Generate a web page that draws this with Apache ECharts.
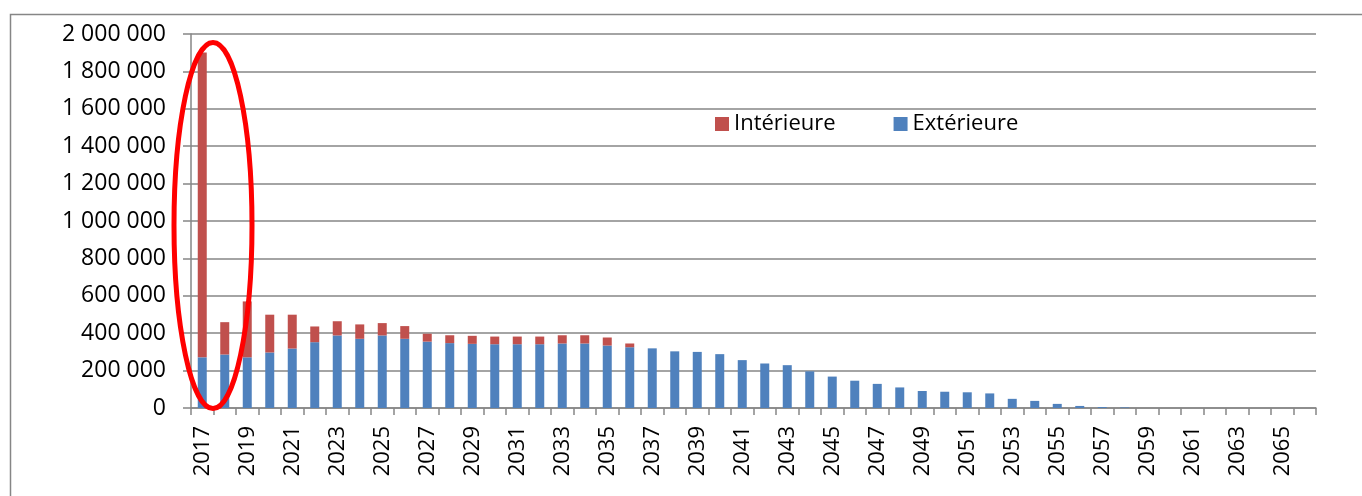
<!DOCTYPE html>
<html>
<head>
<meta charset="utf-8">
<script src="https://cdn.jsdelivr.net/npm/echarts@6/dist/echarts.min.js"></script>
<style>html,body{margin:0;padding:0;background:#fff}#c{width:1362px;height:496px}</style>
</head>
<body>
<div id="c"></div>
<script>
var years = [];
for (var y = 2017; y <= 2066; y++) years.push(String(y));

var exterieure = [271000, 286000, 271000, 297000, 318000, 352000, 388000, 370000, 388000, 370000,
  355000, 347000, 343000, 341000, 341000, 341000, 345000, 345000, 334000, 325000,
  319000, 303000, 300000, 288000, 256000, 238000, 229000, 196000, 168000, 146000,
  129000, 110000, 91000, 87000, 84000, 78000, 49000, 38000, 22000, 11000,
  5000, 3000, 0, 0, 0, 0, 0, 0, 0, 0];

var interieure = [1630000, 173000, 299000, 202000, 181000, 84000, 76000, 77000, 66000, 68000,
  42000, 42000, 43000, 41000, 41000, 41000, 44000, 44000, 43000, 20000,
  0, 0, 0, 0, 0, 0, 0, 0, 0, 0,
  0, 0, 0, 0, 0, 0, 0, 0, 0, 0,
  0, 0, 0, 0, 0, 0, 0, 0, 0, 0];

var yTicks = [0, 200000, 400000, 600000, 800000, 1000000, 1200000, 1400000, 1600000, 1800000, 2000000];

var FONT = 'Open Sans';
var GRAY = '#868686';

function fmt(v) {
  return String(v).replace(/\B(?=(\d{3})+(?!\d))/g, ' ');
}

var chart = echarts.init(document.getElementById('c'), null, {renderer: 'canvas'});
chart.setOption({
  animation: false,
  backgroundColor: '#fff',
  grid: {left: 191, right: 46, top: 34, bottom: 88, containLabel: false},
  legend: {
    data: ['Intérieure', 'Extérieure'],
    left: 710, top: 108,
    itemWidth: 14, itemHeight: 14, itemGap: 58,
    icon: 'rect',
    textStyle: {fontFamily: FONT, fontSize: 22, color: '#000'}
  },
  xAxis: {
    type: 'category',
    data: years,
    axisLine: {lineStyle: {color: GRAY, width: 1.5}},
    axisTick: {show: true, alignWithLabel: false, interval: 0, length: 7, lineStyle: {color: GRAY, width: 1.5}},
    axisLabel: {interval: 1, rotate: 90, margin: 18, fontFamily: FONT, fontSize: 22, color: '#000'}
  },
  yAxis: {
    type: 'value',
    min: yTicks[0], max: yTicks[yTicks.length - 1], interval: yTicks[1] - yTicks[0],
    axisLine: {show: true, lineStyle: {color: GRAY, width: 1.5}},
    axisTick: {show: true, inside: false, length: 8, lineStyle: {color: GRAY, width: 1.5}},
    splitLine: {show: true, lineStyle: {color: GRAY, width: 1.5}},
    axisLabel: {margin: 25, fontFamily: FONT, fontSize: 23, color: '#000', formatter: fmt}
  },
  series: [
    {name: 'Extérieure', type: 'bar', stack: 'total', data: exterieure, barWidth: 9,
      itemStyle: {color: '#4F81BD'}},
    {name: 'Intérieure', type: 'bar', stack: 'total', data: interieure, barWidth: 9,
      itemStyle: {color: '#C0504D'}}
  ],
  graphic: [
    {type: 'rect', left: 8, top: 12, shape: {x: 0, y: 0, width: 1400, height: 520},
      style: {fill: 'none', stroke: GRAY, lineWidth: 1.5}, z: 0, silent: true},
    {type: 'ellipse', shape: {cx: 213, cy: 225.5, rx: 39, ry: 183},
      style: {fill: 'none', stroke: '#FF0000', lineWidth: 5}, z: 100, silent: true}
  ]
});
</script>
</body>
</html>
